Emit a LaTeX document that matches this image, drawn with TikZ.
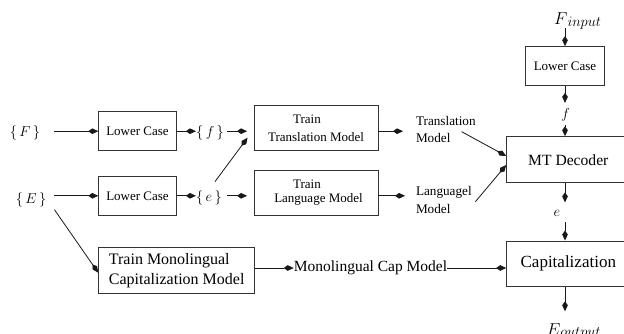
\documentclass[tikz,border=0pt]{standalone}
\usepackage{fontspec}
\setmainfont{Liberation Serif}
\newfontfamily\tms{Liberation Serif}
\usetikzlibrary{arrows.meta,calc}
\tikzset{
  ln/.style={line width=0.8pt, draw=black!90},
  arr/.style={ln, -{Kite[length=10pt,width=5.6pt,inset=4pt]}},
  box/.style={draw=black!80, line width=0.9pt, rectangle, inner sep=0pt, align=center},
  mth/.style={inner sep=0pt, font=\fontsize{14}{14}\selectfont},
  sm/.style={font=\tms\fontsize{13}{17}\selectfont},
  lbl/.style={inner sep=0pt, align=left, anchor=west},
}
\begin{document}
\begin{tikzpicture}[x=1pt,y=-1pt]
\useasboundingbox (0,0) rectangle (624,334);
% left inputs
\node[mth] (F) at (25,133) {$\{\,F\,\}$};
\node[mth] (E) at (31,199.5) {$\{\,E\,\}$};
\node[box,sm,minimum width=77.6pt,minimum height=39pt] (lc1) at (137.5,131.2) {Lower Case};
\node[box,sm,minimum width=77.6pt,minimum height=38.3pt] (lc2) at (137.5,195.8) {Lower Case};
\node[mth] (f1) at (210,133) {$\{\,f\,\}$};
\node[mth] (e1) at (209,198) {$\{\,e\,\}$};
\node[box,font=\tms\fontsize{13}{17.6}\selectfont,minimum width=124pt,minimum height=45.4pt] (ttm) at (316,128) {Train\hspace*{18pt}\\Translation Model};
\node[box,font=\tms\fontsize{13}{13.4}\selectfont,minimum width=124pt,minimum height=45pt] (tlm) at (316,192.5) {Train\hspace*{18pt}\\\hspace*{5pt}Language Model};
\node[lbl,font=\tms\fontsize{13.2}{17}\selectfont] (tml) at (415.8,129.5) {Translation\\Model};
\node[lbl,font=\tms\fontsize{13.2}{18}\selectfont] (lml) at (415.8,199.5) {Languagel\\Model};
% right column
\node[anchor=base west, inner sep=0pt] (Fin) at (554,25) {\fontsize{17}{17}\selectfont$F$\raisebox{-1.5pt}{\fontsize{15}{15}\selectfont$input$}};
\node[box,sm,minimum width=78.6pt,minimum height=39.3pt] (lc3) at (565,66.3) {Lower Case};
\node[mth] (f2) at (565.7,115.3) {$f$};
\node[box,font=\tms\fontsize{15.6}{18}\selectfont,minimum width=123.3pt,minimum height=46pt] (mt) at (568.3,159.7) {MT Decoder};
\node[mth] (e2) at (557,213) {$e$};
\node[box,font=\tms\fontsize{17}{20}\selectfont,minimum width=123.3pt,minimum height=45.7pt] (cap) at (568.3,263.8) {Capitalization};
\node[anchor=base west, inner sep=0pt] (Eout) at (546.7,335) {\fontsize{17}{17}\selectfont$E$\raisebox{-1.5pt}{\fontsize{15}{15}\selectfont$output$}};
% bottom row
\node[box,font=\tms\fontsize{16}{19.4}\selectfont,minimum width=156pt,minimum height=45.6pt,align=left] (tmono) at (176.7,270.5) {Train Monolingual\\Capitalization Model};
\node[inner sep=0pt,anchor=west,font=\tms\fontsize{15.5}{15.5}\selectfont] (mcm) at (293.7,268) {Monolingual Cap Model};
% connectors
\draw[arr,shorten <=13.9pt] (F.east |- lc1.west) -- (lc1.west);
\draw[arr,shorten <=8pt] (E.east |- lc2.west) -- (lc2.west);
\draw[arr] (lc1.east) -- (lc1.east -| f1.west);
\draw[arr] (lc2.east) -- (lc2.east -| e1.west);
\draw[arr,shorten <=3pt,shorten >=6.5pt] (f1.east |- lc1.east) -- (ttm.west |- lc1.east);
\draw[arr,shorten <=5pt,shorten >=6.5pt] (e1.east |- lc2.east) -- (tlm.west |- lc2.east);
\draw[arr] ([xshift=6pt,yshift=9pt]e1.north) -- ([xshift=-6pt,yshift=13.4pt]ttm.south west);
\draw[arr,shorten >=12.8pt] (ttm.east |- lc1.east) -- (tml.west |- lc1.east);
\draw[arr,shorten >=10.8pt] (tlm.east |- lc2.east) -- (lml.west |- lc2.east);
\draw[arr] ([xshift=-14.2pt,yshift=-2.2pt]tml.east) -- ([yshift=3.7pt]mt.west);
\draw[arr] ([xshift=3.5pt,yshift=-2.2pt]lml.east) -- ([yshift=-5.3pt]mt.west);
\draw[arr,shorten <=3pt] (lc3.north |- Fin.base) -- (lc3.north);
\draw[arr,shorten >=5.8pt] (lc3.south) -- (lc3.south |- f2.north);
\draw[arr,shorten <=3.5pt] (lc3.south |- f2.south) -- (lc3.south |- mt.north);
\draw[arr,shorten >=7.3pt] (lc3.south |- mt.south) -- (lc3.south |- e2.north);
\draw[arr,shorten <=5.7pt] (lc3.south |- e2.south) -- (lc3.south |- cap.north);
\draw[arr,shorten >=11.7pt] (lc3.south |- cap.south) -- (lc3.south |- Eout.north);
\draw[arr] ([xshift=8pt,yshift=-2.8pt]E.south east) -- ([yshift=-2.2pt]tmono.west);
\draw[arr] (tmono.east |- mcm.west) -- (mcm.west);
\draw[arr] (mcm.east) -- (cap.west |- mcm.east);
\end{tikzpicture}
\end{document}
